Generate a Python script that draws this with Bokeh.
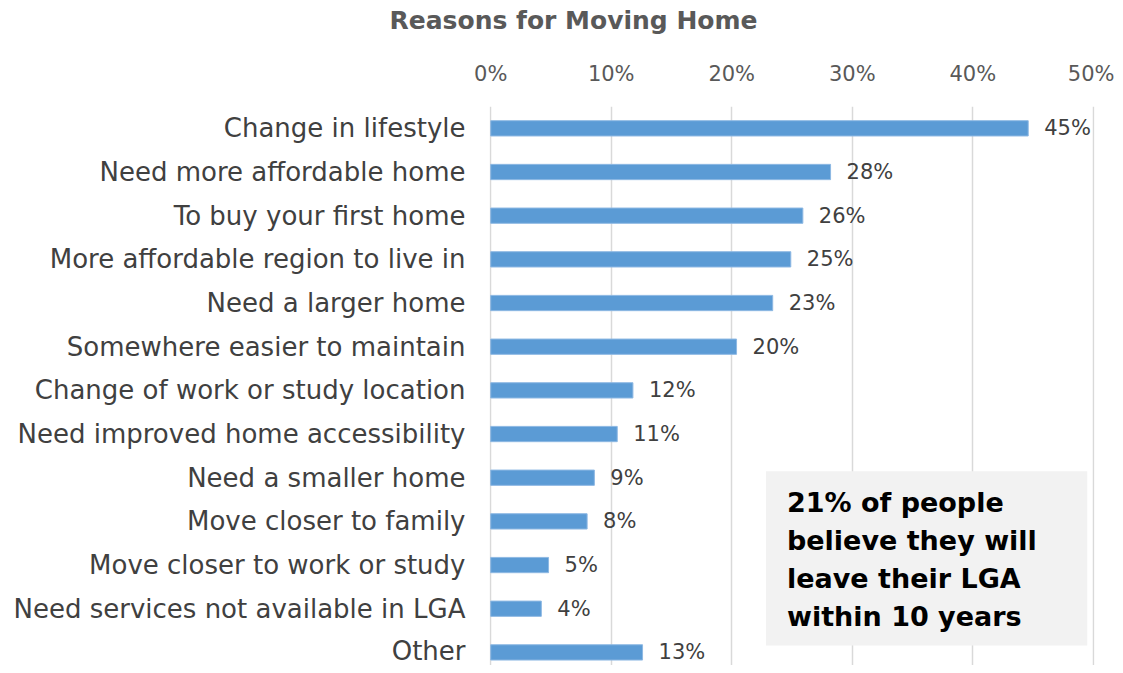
from bokeh.plotting import figure
from bokeh.models import Range1d, FixedTicker, NumeralTickFormatter, Title, ColumnDataSource
from bokeh.core.properties import value
from bokeh.embed import file_html
from bokeh.resources import INLINE

categories = ["Change in lifestyle", "Need more affordable home", "To buy your first home",
              "More affordable region to live in", "Need a larger home", "Somewhere easier to maintain",
              "Change of work or study location", "Need improved home accessibility", "Need a smaller home",
              "Move closer to family", "Move closer to work or study", "Need services not available in LGA",
              "Other"]
values = [0.446, 0.282, 0.259, 0.249, 0.234, 0.204, 0.118, 0.105, 0.086, 0.080, 0.048, 0.042, 0.126]
value_labels = ["45%", "28%", "26%", "25%", "23%", "20%", "12%", "11%", "9%", "8%", "5%", "4%", "13%"]
x_ticks = [0, 0.1, 0.2, 0.3, 0.4, 0.5]
note_lines = ["21% of people", "believe they will", "leave their LGA", "within 10 years"]
title_text = "Reasons for Moving Home"

FONT = "DejaVu Sans"
pos = list(range(len(categories)))
src = ColumnDataSource(dict(y=pos, v=values, lab=value_labels))

p = figure(width=1114, height=665, output_backend="svg", toolbar_location=None,
           x_range=Range1d(-0.001, 0.501), y_range=Range1d(len(categories) - 0.7, -0.5),
           x_axis_location="above", min_border_left=489, min_border_right=20,
           min_border_top=106, min_border_bottom=0)
p.outline_line_color = None
p.background_fill_color = "white"
p.border_fill_color = "white"

# spacer between the percentage axis and the title
p.add_layout(Title(text=" ", text_font_size="2px", standoff=20), "above")
t = Title(text=title_text, align="left", offset=-100, standoff=0,
          text_font=FONT, text_font_size="25px", text_font_style="bold", text_color="#595959")
p.add_layout(t, "above")

p.hbar(y="y", right="v", left=0, height=0.35, source=src, fill_color="#5B9BD5",
       line_color="#8DB8E3", line_width=1)
p.text(x="v", y="y", text="lab", source=src, x_offset=16, text_baseline="middle",
       text_align="left", text_font=value(FONT), text_font_size="21px", text_color="#404040")

# annotation box
p.quad(left=0.2284, right=0.4950, top=7.85, bottom=11.84, fill_color="#F2F2F2", line_color=None)
ys = [8.56 + i * 0.87 for i in range(len(note_lines))]
p.text(x=[0.2458] * len(note_lines), y=ys, text=note_lines, text_baseline="middle", text_align="left",
       text_font=value(FONT), text_font_size="27px", text_font_style="bold", text_color="#000000")

xa = p.xaxis[0]
xa.ticker = FixedTicker(ticks=x_ticks)
xa.formatter = NumeralTickFormatter(format="0%")
xa.axis_line_color = None
xa.major_tick_line_color = None
xa.minor_tick_line_color = None
xa.major_label_standoff = 15
xa.major_label_text_font = FONT
xa.major_label_text_font_size = "21px"
xa.major_label_text_color = "#595959"

ya = p.yaxis[0]
ya.ticker = FixedTicker(ticks=pos)
ya.major_label_overrides = {i: c for i, c in enumerate(categories)}
ya.axis_line_color = None
ya.major_tick_line_color = None
ya.minor_tick_line_color = None
ya.major_label_standoff = 18
ya.major_label_text_font = FONT
ya.major_label_text_font_size = "26px"
ya.major_label_text_color = "#404040"

p.ygrid.grid_line_color = None
p.xgrid.ticker = FixedTicker(ticks=x_ticks)
p.xgrid.grid_line_color = "#D9D9D9"
p.xgrid.grid_line_width = 1.5
p.xgrid.level = "underlay"

open("out.html", "w").write(file_html(p, INLINE))
